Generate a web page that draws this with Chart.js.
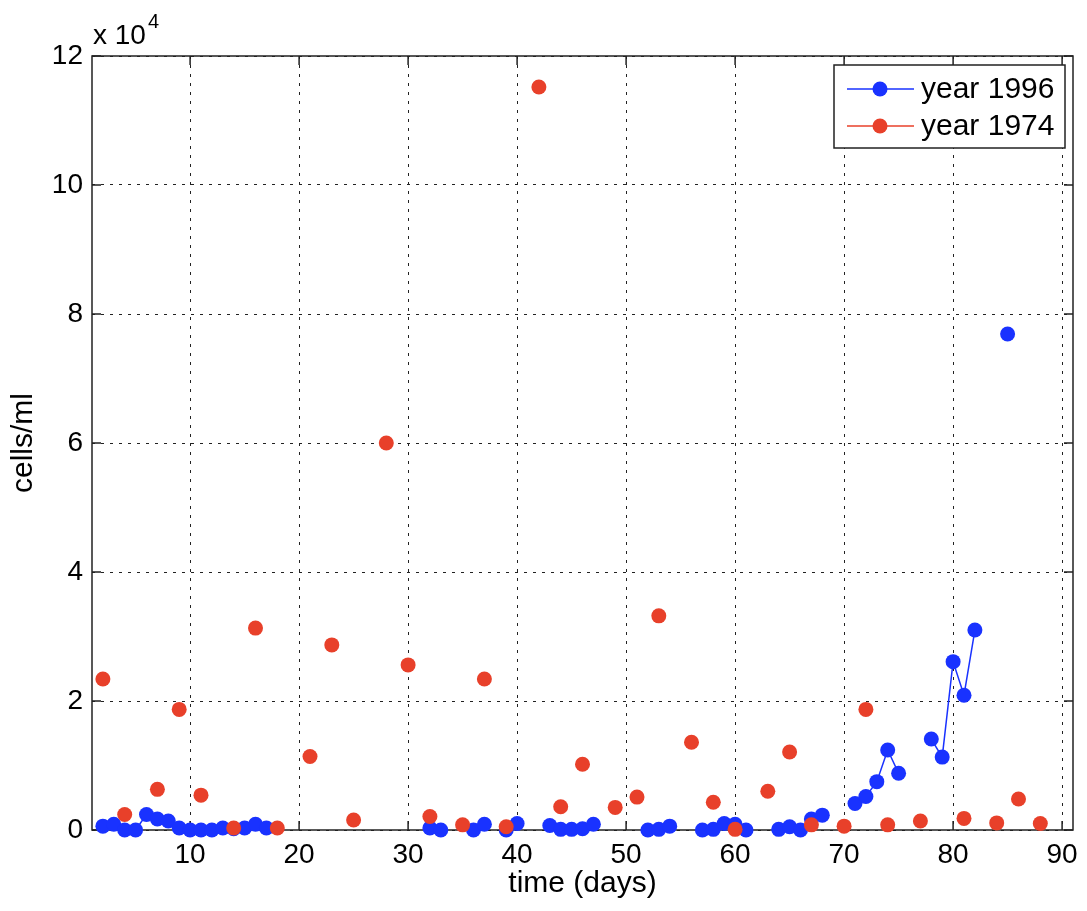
<!DOCTYPE html>
<html>
<head>
<meta charset="utf-8">
<script src="https://cdn.jsdelivr.net/npm/chart.js@4.4.0/dist/chart.umd.min.js"></script>
<style>
  html, body { margin: 0; padding: 0; background: #fff; }
  canvas { display: block; }
</style>
</head>
<body>
<canvas id="cellsCanvas" width="1087" height="911"></canvas>
<script>
// data (cells/ml)
const days1996 = [2, 3, 4, 5, 6, 7, 8, 9, 10, 11, 12, 13, 14, 15, 16, 17,
    32, 33, 36, 37, 39, 40, 43, 44, 45, 46, 47, 52, 53, 54,
    57, 58, 59, 60, 61, 64, 65, 66, 67, 68, 71, 72, 73, 74, 75,
    78, 79, 80, 81, 82, 85];
const cells1996 = [600, 900, 0, 0, 2400, 1700, 1400, 300, 0, 0, 0, 300, 200, 300, 900, 300,
    300, 0, 0, 900, 0, 1000, 700, 100, 100, 200, 900, 0, 100, 600,
    0, 100, 1000, 900, 0, 100, 500, 0, 1700, 2300, 4100, 5200, 7500, 12400, 8800,
    14100, 11300, 26100, 20900, 31000, 76900];

const days1974 = [2, 4, 7, 9, 11, 14, 16, 18, 21, 23, 25, 28, 30, 32, 35, 37, 39,
    42, 44, 46, 49, 51, 53, 56, 58, 60, 63, 65, 67, 70, 72, 74, 77, 81, 84, 86, 88];
const cells1974 = [23400, 2400, 6300, 18700, 5400, 300, 31300, 300, 11400, 28700, 1550, 60000, 25600, 2100, 800, 23400, 500,
    115200, 3600, 10200, 3500, 5100, 33200, 13600, 4300, 100, 6000, 12100, 800, 600, 18700, 800, 1400, 1800, 1100, 4800, 1000];

const xTickValues = [10, 20, 30, 40, 50, 60, 70, 80, 90];
const yTickValues = [0, 20000, 40000, 60000, 80000, 100000, 120000];
const seriesLabels = ['year 1996', 'year 1974'];

const blue = '#1932ff';
const red = '#e8402a';
const fontFamily = "'Liberation Sans', Arial, sans-serif";
Chart.defaults.font.family = fontFamily;
Chart.defaults.color = '#000';

// days without a sample break the line, like NaN in the original
function toPoints(days, values) {
    let points = [];
    for (let i = 0; i < days.length; i++) {
        if (i > 0 && days[i] - days[i - 1] > 1) {
            points.push({ x: days[i - 1] + 1, y: null });
        }
        points.push({ x: days[i], y: values[i] });
    }
    return points;
}

// white page, box with inward ticks, legend and the exponent
const matlabAxes = {
    id: 'matlabAxes',
    beforeDraw(chart) {
        const ctx = chart.ctx;
        ctx.save();
        ctx.fillStyle = '#fff';
        ctx.fillRect(0, 0, chart.width, chart.height);
        ctx.restore();
    },
    beforeDatasetsDraw(chart) {
        const ctx = chart.ctx;
        const a = chart.chartArea;
        const xs = chart.scales.x, ys = chart.scales.y;
        const tick = 9;
        ctx.save();
        ctx.strokeStyle = '#222';
        ctx.lineWidth = 1.5;
        ctx.beginPath();
        xTickValues.forEach(v => {
            const px = xs.getPixelForValue(v);
            ctx.moveTo(px, a.bottom); ctx.lineTo(px, a.bottom - tick);
            ctx.moveTo(px, a.top); ctx.lineTo(px, a.top + tick);
        });
        yTickValues.forEach(v => {
            const py = ys.getPixelForValue(v);
            ctx.moveTo(a.left, py); ctx.lineTo(a.left + tick, py);
            ctx.moveTo(a.right, py); ctx.lineTo(a.right - tick, py);
        });
        ctx.stroke();
        ctx.strokeRect(a.left, a.top, a.right - a.left, a.bottom - a.top);
        ctx.restore();
    },
    afterDraw(chart) {
        const ctx = chart.ctx;
        const a = chart.chartArea;
        ctx.save();
        // exponent above the y axis
        ctx.fillStyle = '#000';
        ctx.textBaseline = 'alphabetic';
        ctx.font = '28px ' + fontFamily;
        ctx.fillText('x 10', a.left + 1, 44);
        const w = ctx.measureText('x 10').width;
        ctx.font = '20px ' + fontFamily;
        ctx.fillText('4', a.left + 3 + w, 28);

        // legend
        const boxRight = a.right - 8, boxTop = a.top + 9;
        const boxW = 231, boxH = 83;
        const boxLeft = boxRight - boxW;
        ctx.fillStyle = '#fff';
        ctx.fillRect(boxLeft, boxTop, boxW, boxH);
        ctx.strokeStyle = '#222';
        ctx.lineWidth = 1.5;
        ctx.strokeRect(boxLeft, boxTop, boxW, boxH);
        ctx.font = '30px ' + fontFamily;
        ctx.textBaseline = 'middle';
        chart.data.datasets.forEach((ds, i) => {
            const y = boxTop + 24 + i * 37;
            ctx.strokeStyle = ds.borderColor;
            ctx.lineWidth = 1.5;
            ctx.beginPath();
            ctx.moveTo(boxLeft + 13, y);
            ctx.lineTo(boxLeft + 80, y);
            ctx.stroke();
            ctx.fillStyle = ds.pointBackgroundColor;
            ctx.beginPath();
            ctx.arc(boxLeft + 46, y, 7.5, 0, Math.PI * 2);
            ctx.fill();
            ctx.fillStyle = '#000';
            ctx.fillText(ds.label, boxLeft + 87, y + 1);
        });
        ctx.restore();
    }
};

let ctx = document.getElementById('cellsCanvas').getContext('2d');
let cellsChart = new Chart(ctx, {
    type: 'line',
    data: {
        datasets: [{
            label: seriesLabels[0],
            data: toPoints(days1996, cells1996),
            borderColor: blue,
            backgroundColor: blue,
            pointBackgroundColor: blue,
            borderWidth: 1.5,
            pointRadius: 7.5,
            pointBorderWidth: 0,
            spanGaps: false,
            clip: false,
            order: 2
        }, {
            label: seriesLabels[1],
            data: toPoints(days1974, cells1974),
            borderColor: red,
            backgroundColor: red,
            pointBackgroundColor: red,
            borderWidth: 1.5,
            pointRadius: 7.5,
            pointBorderWidth: 0,
            spanGaps: false,
            clip: false,
            order: 1
        }]
    },
    plugins: [matlabAxes],
    options: {
        responsive: false,
        animation: false,
        events: [],
        layout: {
            padding: { top: 56, right: 14, left: 0, bottom: 0 }
        },
        plugins: {
            legend: { display: false },
            tooltip: { enabled: false }
        },
        scales: {
            x: {
                type: 'linear',
                min: 1,
                max: 91,
                afterBuildTicks: axis => { axis.ticks = xTickValues.map(v => ({ value: v })); },
                afterFit: axis => { axis.height = 81; },
                ticks: {
                    font: { size: 28 },
                    padding: 8,
                    maxRotation: 0,
                    autoSkip: false
                },
                title: {
                    display: true,
                    text: 'time (days)',
                    font: { size: 30, lineHeight: 1.2 },
                    padding: { top: 0, bottom: 9 }
                },
                grid: { color: '#222', lineWidth: 1, drawTicks: false },
                border: { display: false, dash: [3, 6] }
            },
            y: {
                min: 0,
                max: 120000,
                afterBuildTicks: axis => { axis.ticks = yTickValues.map(v => ({ value: v })); },
                afterFit: axis => { axis.width = 92; },
                ticks: {
                    font: { size: 28 },
                    padding: 9,
                    callback: v => String(v / 10000)
                },
                title: {
                    display: true,
                    text: 'cells/ml',
                    font: { size: 30, lineHeight: 1.2 },
                    padding: { top: 6, bottom: 0 }
                },
                grid: { color: '#222', lineWidth: 1, drawTicks: false },
                border: { display: false, dash: [3, 6] }
            }
        }
    }
});
</script>
</body>
</html>
